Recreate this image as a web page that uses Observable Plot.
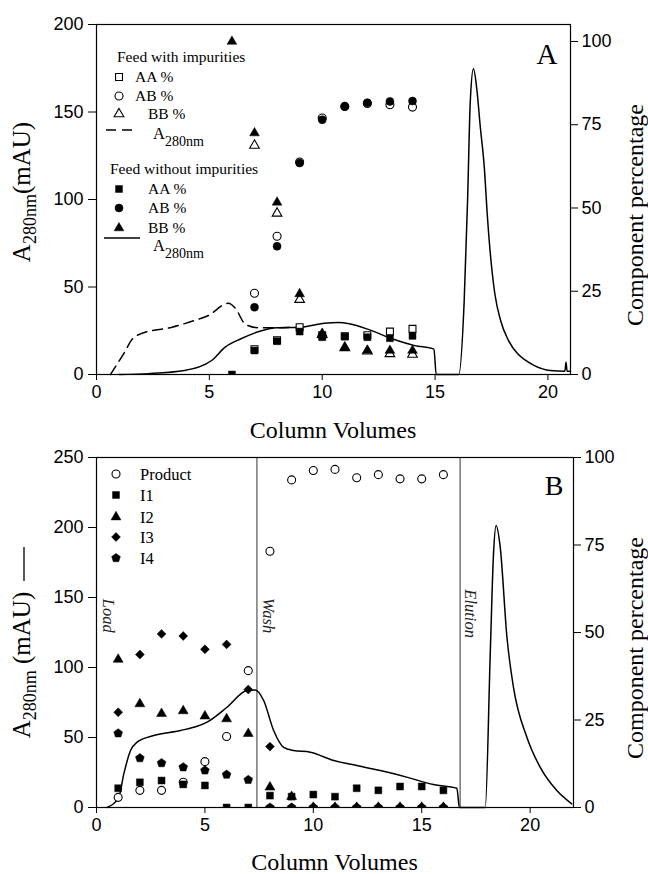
<!DOCTYPE html>
<html><head><meta charset="utf-8">
<script src="https://cdn.jsdelivr.net/npm/d3@7"></script>
<script src="https://cdn.jsdelivr.net/npm/@observablehq/plot@0.6"></script>
<style>
body{margin:0;background:#fff;}
#chart{width:648px;height:874px;overflow:hidden;}
svg{display:block;}
</style></head><body><div id="chart"></div>
<script>
// ---------- Panel A data ----------
const cvA = [6, 7, 8, 9, 10, 11, 12, 13, 14];
// Feed with impurities (open markers), component %
const withAA = [null, 7.6, 10.3, 14.2, 11.8, 11.5, 11.8, 12.9, 13.7];
const withAB = [null, 24.4, 41.5, 63.8, 77.0, 80.5, 81.4, 81.0, 80.3];
const withBB = [null, 68.8, 48.4, 22.5, 12.0, 8.0, 7.0, 6.2, 6.0];
// Feed without impurities (filled markers), component %
const withoutAA = [0, 7.2, 10.0, 12.9, 11.2, 11.4, 11.2, 10.9, 11.6];
const withoutAB = [null, 20.2, 38.5, 63.5, 76.5, 80.5, 81.6, 82.0, 82.1];
const withoutBB = [100, 72.5, 51.7, 24.2, 12.3, 8.2, 7.2, 7.2, 7.2];
// A280 traces (mAU)
const dashA_cv  = [0.62, 1.2, 1.6, 1.95, 3.35, 4.2, 4.96, 5.84, 6.16, 6.6, 7.19, 8.0, 9.0];
const dashA_mAU = [0, 11.8, 20.4, 23.2, 27.0, 30.3, 33.7, 40.7, 37.7, 28.6, 26.7, 26.7, 27.0];
const solidA_cv  = [1.0, 2.3, 3.9, 5.1, 5.7, 6.4, 7.2, 8.0, 9.0, 10.1, 10.7, 11.2, 12.1, 13.1, 14.1, 14.95, 15.05, 16.05, 16.29, 16.44, 16.56, 16.7, 16.85, 17.0, 17.18, 17.32, 17.47, 17.65, 17.9, 18.25, 18.66, 19.0, 19.4, 20.1, 20.75, 20.8, 20.85, 21.0];
const solidA_mAU = [0, 0.5, 2.3, 8, 15.6, 20.4, 24.6, 26.7, 27, 29.3, 29.7, 29, 25.5, 20.4, 16.5, 14.5, 0, 0, 42, 99.4, 156, 174.7, 163, 142, 118.5, 90, 66, 46, 31, 19.5, 11.8, 8.2, 5.1, 2.3, 1.9, 7, 1.9, 1.8];
const ticksA_x = [0, 5, 10, 15, 20];
const ticksA_y = [0, 50, 100, 150, 200];
const ticksPct = [0, 25, 50, 75, 100];
const mAUperPctA = 1.903;

// ---------- Panel B data ----------
const cvB = [1, 2, 3, 4, 5, 6, 7, 8, 9, 10, 11, 12, 13, 14, 15, 16];
const product = [2.9, 4.9, 4.9, 7.2, 13.1, 20.3, 39.1, 73.2, 93.6, 96.3, 96.6, 94.2, 95.1, 93.9, 93.9, 95.1];
const i1 = [5.5, 7.2, 7.7, 6.6, 6.3, 0, 0, 3.4, 3.1, 3.7, 3.1, 5.5, 4.9, 6.0, 6.0, 4.9];
const i2 = [42.3, 29.6, 26.8, 27.6, 26.1, 25.3, 21.1, 5.8, 3.1, 0, 0, 0, 0, 0, 0, 0];
const i3 = [27.2, 43.7, 49.6, 49.0, 45.2, 46.6, 33.7, 17.4, 0, 0, 0, 0, 0, 0, 0, 0];
const i4 = [21.2, 14.1, 12.7, 11.5, 10.6, 9.4, 7.9, 0, 0, 0, 0, 0, 0, 0, 0, 0];
const curveB_cv  = [0.49, 1.03, 1.26, 1.57, 1.87, 2.64, 3.87, 4.64, 5.1, 6.02, 6.94, 7.33, 7.71, 8.17, 8.63, 9.09, 9.86, 10.94, 12.0, 13.09, 14.3, 15.54, 16.62, 16.74, 17.93, 18.16, 18.31, 18.43, 18.62, 18.93, 19.23, 19.85, 20.46, 21.23, 21.92];
const curveB_mAU = [0, 7.4, 24, 40.7, 46.7, 51.4, 55, 58, 61, 71.6, 83.6, 84, 76.4, 55, 43, 40.7, 39.5, 33.6, 30, 26.4, 21.7, 16.4, 13.8, 0, 0, 109.8, 181, 201.4, 186, 121.6, 86, 50.2, 28.8, 12.1, 2.6];
const phaseBounds = [7.4, 16.77];
const phaseNames = ["Load", "Wash", "Elution"];
const phaseLabelCv = [0.53, 7.94, 17.23];
const phaseLabelMAU = [137, 137, 138.5];
const ticksB_x = [0, 5, 10, 15, 20];
const ticksB_y = [0, 50, 100, 150, 200, 250];
const mAUperPctB = 2.5;

// ---------- helpers ----------
const serif = "'Liberation Serif','Times New Roman',serif";
const sans = "'Liberation Sans',Arial,sans-serif";
const pentagon = {draw(ctx, size) {
  const r = Math.sqrt(size / (2.5 * Math.sin(2 * Math.PI / 5)));
  for (let i = 0; i < 5; i++) {
    const a = -Math.PI / 2 + i * 2 * Math.PI / 5;
    const x = r * Math.cos(a), y = r * Math.sin(a);
    i ? ctx.lineTo(x, y) : ctx.moveTo(x, y);
  }
  ctx.closePath();
}};
const rows = (xs, ys, k = 1) => xs.map((x, i) => ({x, y: ys[i] == null ? null : ys[i] * k})).filter(d => d.y != null);
const dotsOpen = (data, symbol, r) => Plot.dot(data, {x: "x", y: "y", symbol, r, stroke: "black", strokeWidth: 1.1, fill: "white", clip: true});
const dotsFill = (data, symbol, r) => Plot.dot(data, {x: "x", y: "y", symbol, r, stroke: "black", strokeWidth: 0.5, fill: "black", clip: true});

function sym(type, r) { return d3.symbol(type, Math.PI * r * r)(); }

function addText(svg, x, y, str, opts = {}) {
  const t = svg.append("text").attr("x", x).attr("y", y)
    .attr("font-family", opts.family || serif).attr("font-size", opts.size || 15.5)
    .attr("fill", "black").attr("text-anchor", opts.anchor || "start");
  if (opts.rotate) t.attr("transform", `rotate(${opts.rotate},${x},${y})`);
  if (opts.style) t.attr("font-style", opts.style);
  if (str) t.text(str);
  return t;
}
function addA280(svg, x, y, size, subSize, shift, tail, opts = {}) {
  const t = addText(svg, x, y, "", {size, anchor: opts.anchor, rotate: opts.rotate});
  t.append("tspan").text("A");
  t.append("tspan").attr("font-size", subSize).attr("dy", shift).text("280nm");
  if (tail) t.append("tspan").attr("dy", -shift).text(tail);
  return t;
}

const chart = document.getElementById("chart");

// ---------- Panel A ----------
const plotA = Plot.plot({
  width: 648, height: 445,
  marginLeft: 96, marginRight: 78, marginTop: 24, marginBottom: 71,
  x: {domain: [0, 21]},
  y: {domain: [0, 200]},
  style: {fontFamily: sans, fontSize: "18px", color: "black", background: "white"},
  marks: [
    Plot.line(rows(dashA_cv, dashA_mAU), {x: "x", y: "y", curve: "monotone-x", stroke: "black", strokeWidth: 1.5, strokeDasharray: "10,6"}),
    Plot.line(rows(solidA_cv, solidA_mAU), {x: "x", y: "y", curve: "monotone-x", stroke: "black", strokeWidth: 1.5}),
    dotsOpen(rows(cvA, withAA, mAUperPctA), "square", 3.9),
    dotsOpen(rows(cvA, withAB, mAUperPctA), "circle", 4),
    dotsOpen(rows(cvA, withBB, mAUperPctA), "triangle", 3.6),
    dotsFill(rows(cvA, withoutAA, mAUperPctA), "square", 3.9),
    dotsFill(rows(cvA, withoutAB, mAUperPctA), "circle", 4),
    dotsFill(rows(cvA, withoutBB, mAUperPctA), "triangle", 3.6),
    Plot.frame({stroke: "black", strokeWidth: 1.2}),
    Plot.axisX({ticks: ticksA_x, tickSize: 6, tickPadding: 5, label: null}),
    Plot.axisY({anchor: "left", ticks: ticksA_y, tickSize: 8, tickPadding: 5, label: null}),
    Plot.axisY({anchor: "right", ticks: ticksPct.map(p => p * mAUperPctA), tickFormat: d => Math.round(d / mAUperPctA), tickSize: 7, tickPadding: 4, label: null}),
    Plot.text(["A"], {frameAnchor: "top-right", dx: -13, dy: 19, lineAnchor: "top", textAnchor: "end", fontSize: 29, fontFamily: serif})
  ]
});
chart.appendChild(plotA);
{
  const svg = d3.select(plotA);
  addA280(svg, 30, 192, 25, 18, 6, "(mAU)", {anchor: "middle", rotate: -90});
  addText(svg, 643, 215, "Component percentage", {size: 24, anchor: "middle", rotate: -90});
  addText(svg, 333, 438, "Column Volumes", {size: 24, anchor: "middle"});
  // legend
  const lg = svg.append("g");
  addText(lg, 117, 62, "Feed with impurities");
  const L1 = [[d3.symbolSquare, 3.9, 77, "AA %", 135], [d3.symbolCircle, 4, 96, "AB %", 135], [d3.symbolTriangle, 3.6, 114, "BB %", 148]];
  L1.forEach(([s, r, y, txt, tx]) => {
    lg.append("path").attr("d", sym(s, r)).attr("transform", `translate(119,${y})`).attr("fill", "white").attr("stroke", "black").attr("stroke-width", 1.1);
    addText(lg, tx, y + 5, txt);
  });
  lg.append("line").attr("x1", 106).attr("x2", 134).attr("y1", 130).attr("y2", 130).attr("stroke", "black").attr("stroke-width", 1.5).attr("stroke-dasharray", "10,6");
  addA280(lg, 153, 139, 16.5, 14, 7, null);
  addText(lg, 110, 174, "Feed without impurities");
  const L2 = [[d3.symbolSquare, 3.9, 189, "AA %"], [d3.symbolCircle, 4, 208, "AB %"], [d3.symbolTriangle, 3.6, 228, "BB %"]];
  L2.forEach(([s, r, y, txt]) => {
    lg.append("path").attr("d", sym(s, r)).attr("transform", `translate(119,${y})`).attr("fill", "black").attr("stroke", "black").attr("stroke-width", 0.5);
    addText(lg, 148, y + 5, txt);
  });
  lg.append("line").attr("x1", 104).attr("x2", 140).attr("y1", 238).attr("y2", 238).attr("stroke", "black").attr("stroke-width", 1.5);
  addA280(lg, 153, 251, 16.5, 14, 7, null);
}

// ---------- Panel B ----------
const plotB = Plot.plot({
  width: 648, height: 429,
  marginLeft: 96, marginRight: 75, marginTop: 12, marginBottom: 67,
  x: {domain: [0, 22]},
  y: {domain: [0, 250]},
  style: {fontFamily: sans, fontSize: "18px", color: "black", background: "white"},
  marks: [
    Plot.ruleX(phaseBounds, {stroke: "#333", strokeWidth: 1}),
    Plot.text(phaseNames, {x: (d, i) => phaseLabelCv[i], y: (d, i) => phaseLabelMAU[i], rotate: 90, fontStyle: "italic", fontFamily: serif, fontSize: 16.5, fill: "#222"}),
    Plot.line(rows(curveB_cv, curveB_mAU), {x: "x", y: "y", curve: "monotone-x", stroke: "black", strokeWidth: 1.5}),
    dotsOpen(rows(cvB, product, mAUperPctB), "circle", 4),
    dotsFill(rows(cvB, i4, mAUperPctB), pentagon, 4),
    dotsFill(rows(cvB, i3, mAUperPctB), "diamond2", 4),
    dotsFill(rows(cvB, i2, mAUperPctB), "triangle", 3.7),
    dotsFill(rows(cvB, i1, mAUperPctB), "square", 3.9),
    Plot.frame({stroke: "black", strokeWidth: 1.2}),
    Plot.axisX({ticks: ticksB_x, tickSize: 6, tickPadding: 5, label: null}),
    Plot.axisY({anchor: "left", ticks: ticksB_y, tickSize: 8, tickPadding: 5, label: null}),
    Plot.axisY({anchor: "right", ticks: ticksPct.map(p => p * mAUperPctB), tickFormat: d => Math.round(d / mAUperPctB), tickSize: 7, tickPadding: 4, label: null}),
    Plot.text(["B"], {frameAnchor: "top-right", dx: -10, dy: 18, lineAnchor: "top", textAnchor: "end", fontSize: 28, fontFamily: serif})
  ]
});
chart.appendChild(plotB);
{
  const svg = d3.select(plotB);
  addA280(svg, 30, 220, 25, 18, 6, " (mAU)", {anchor: "middle", rotate: -90});
  svg.append("line").attr("x1", 24).attr("x2", 24).attr("y1", 102).attr("y2", 136).attr("stroke", "black").attr("stroke-width", 1.3);
  addText(svg, 643, 203, "Component percentage", {size: 24, anchor: "middle", rotate: -90});
  addText(svg, 334.5, 425, "Column Volumes", {size: 24, anchor: "middle"});
  const lg = svg.append("g");
  const LB = [["circle", 4, 29, "Product"], [d3.symbolSquare, 3.9, 50, "I1"], [d3.symbolTriangle, 3.7, 72, "I2"], [d3.symbolDiamond2, 4, 92, "I3"], [pentagon, 4, 113, "I4"]];
  LB.forEach(([s, r, y, txt]) => {
    const open = s === "circle";
    lg.append("path").attr("d", sym(open ? d3.symbolCircle : s, r)).attr("transform", `translate(116,${y})`)
      .attr("fill", open ? "white" : "black").attr("stroke", "black").attr("stroke-width", open ? 1.1 : 0.5);
    addText(lg, 140, y + 5.5, txt, {size: 16.5});
  });
}
</script></body></html>
